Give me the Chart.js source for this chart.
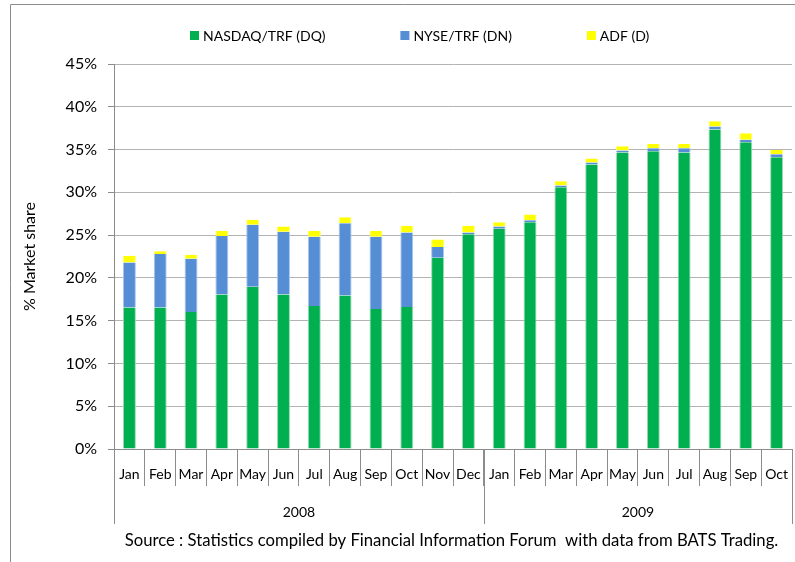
<!DOCTYPE html>
<html>
<head>
<meta charset="utf-8">
<script src="https://cdn.jsdelivr.net/npm/chart.js@4.4.1/dist/chart.umd.min.js"></script>
<style>
  html, body { margin: 0; padding: 0; background: #fff; }
  #wrap { width: 795px; height: 562px; position: relative; }
</style>
</head>
<body>
<div id="wrap"><canvas id="shareChart"></canvas></div>
<script>
const months = ['Jan','Feb','Mar','Apr','May','Jun','Jul','Aug','Sep','Oct','Nov','Dec',
                'Jan','Feb','Mar','Apr','May','Jun','Jul','Aug','Sep','Oct'];
const yearLabels = ['2008', '2009'];
const yearSpans = [12, 10];   // months per year group

const nasdaqTrf = [16.55, 16.55, 16.0, 18.05, 18.95, 18.05, 16.7, 17.95, 16.35, 16.6, 22.35, 25.1,
                   25.75, 26.5, 30.6, 33.25, 34.65, 34.8, 34.65, 37.35, 35.85, 34.1];
const nyseTrf = [5.25, 6.25, 6.25, 6.85, 7.25, 7.35, 8.1, 8.45, 8.45, 8.7, 1.25, 0.2,
                 0.25, 0.25, 0.2, 0.25, 0.25, 0.35, 0.5, 0.35, 0.3, 0.35];
const adf = [0.8, 0.3, 0.45, 0.6, 0.6, 0.6, 0.7, 0.7, 0.7, 0.8, 0.9, 0.8,
             0.5, 0.65, 0.5, 0.45, 0.5, 0.5, 0.5, 0.6, 0.75, 0.5];

const sourceNote = 'Source : Statistics compiled by Financial Information Forum  with data from BATS Trading.';

const FONT = 'Lato, "Open Sans", sans-serif';
const gridGrey = '#b3b3b3';
const axisGrey = '#8c8c8c';

// frame, custom legend, year row and source line
const decorations = {
  id: 'decorations',
  afterDraw(chart) {
    const ctx = chart.ctx;
    const x = chart.scales.x;
    ctx.save();

    // outer frame (top + left edges visible)
    ctx.strokeStyle = '#8c8c8c';
    ctx.lineWidth = 1;
    ctx.beginPath();
    ctx.moveTo(10.5, 570);
    ctx.lineTo(10.5, 4.5);
    ctx.lineTo(800, 4.5);
    ctx.stroke();

    // legend
    ctx.font = '14px ' + FONT;
    ctx.textBaseline = 'middle';
    ctx.textAlign = 'left';
    let lx = 190;
    chart.data.datasets.forEach(ds => {
      ctx.fillStyle = ds.backgroundColor;
      ctx.fillRect(lx, 31, 9, 9);
      ctx.fillStyle = '#000';
      ctx.fillText(ds.label, lx + 13, 36);
      lx += 13 + ctx.measureText(ds.label).width + 75;
    });

    // year group separators and labels
    const step = (x.right - x.left) / months.length;
    ctx.strokeStyle = axisGrey;
    ctx.fillStyle = '#000';
    ctx.font = '14px ' + FONT;
    ctx.textAlign = 'center';
    let idx = 0;
    const bounds = [x.left];
    yearSpans.forEach((n, i) => {
      const x0 = x.left + idx * step;
      const x1 = x.left + (idx + n) * step;
      bounds.push(x1);
      ctx.fillText(yearLabels[i], (x0 + x1) / 2, 512);
      idx += n;
    });
    ctx.beginPath();
    bounds.forEach(b => {
      const px = Math.round(b) + 0.5;
      ctx.moveTo(px, x.top);
      ctx.lineTo(px, 524);
    });
    ctx.stroke();

    // source note, sized to span the same width as the original
    ctx.font = '15px ' + FONT;
    const size = 15 * 653 / ctx.measureText(sourceNote).width;
    ctx.font = size.toFixed(1) + 'px ' + FONT;
    ctx.fillText(sourceNote, 451.5, 541);
    ctx.restore();
  }
};

new Chart(document.getElementById('shareChart'), {
  type: 'bar',
  data: {
    labels: months,
    datasets: [
      { label: 'NASDAQ/TRF (DQ)', data: nasdaqTrf, backgroundColor: '#00b050', borderColor: '#9ad9b1' },
      { label: 'NYSE/TRF (DN)', data: nyseTrf, backgroundColor: '#558ed5', borderColor: '#a9c6ec' },
      { label: 'ADF (D)', data: adf, backgroundColor: '#ffff00', borderColor: '#ffff66' }
    ]
  },
  options: {
    responsive: true,
    maintainAspectRatio: false,
    animation: false,
    layout: { padding: { top: 64, right: 3, left: 0, bottom: 0 } },
    datasets: {
      bar: {
        barPercentage: 0.42,
        categoryPercentage: 1,
        borderWidth: { left: 1, right: 1, top: 0, bottom: 0 }
      }
    },
    plugins: {
      legend: { display: false },
      tooltip: { enabled: false }
    },
    scales: {
      x: {
        stacked: true,
        afterFit(scale) { scale.height = 113; },
        border: { color: axisGrey },
        grid: {
          offset: true,
          drawOnChartArea: false,
          color: axisGrey,
          tickLength: 37
        },
        ticks: {
          autoSkip: false,
          maxRotation: 0,
          padding: -20,
          color: '#000',
          font: { family: FONT, size: 14 }
        }
      },
      y: {
        stacked: true,
        min: 0,
        max: 45,
        afterFit(scale) { scale.width = 114; },
        border: { color: axisGrey },
        grid: { color: gridGrey, tickColor: axisGrey, tickLength: 6 },
        ticks: {
          stepSize: 5,
          padding: 11,
          color: '#000',
          font: { family: FONT, size: 16 },
          callback: v => v + '%'
        },
        title: {
          display: true,
          text: '% Market share',
          color: '#000',
          font: { family: FONT, size: 16 },
          padding: { top: 20, bottom: 0 }
        }
      }
    }
  },
  plugins: [decorations]
});
</script>
</body>
</html>
